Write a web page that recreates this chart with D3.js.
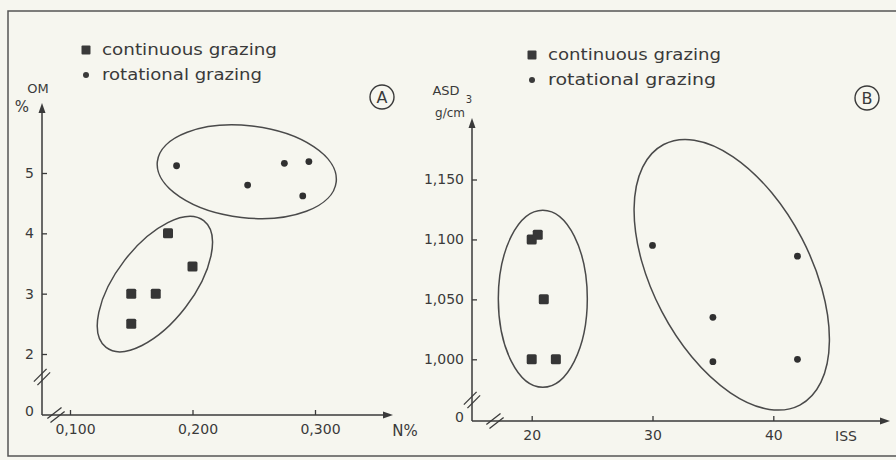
<!DOCTYPE html>
<html>
<head>
<meta charset="utf-8">
<script src="https://cdn.jsdelivr.net/npm/d3@7"></script>
<style>
  body { margin: 0; background: #f6f6ef; }
  svg text { font-family: "DejaVu Sans", sans-serif; fill: #3a3a3a; }
</style>
</head>
<body>
<script>
// figure size
const width = 896;
const height = 460;

// panel A : N% vs OM%
const contNA = [0.18, 0.20, 0.15, 0.17, 0.15];
const contOMA = [4.0, 3.45, 3.0, 3.0, 2.5];
const rotNA = [0.187, 0.275, 0.295, 0.245, 0.29];
const rotOMA = [5.12, 5.16, 5.19, 4.8, 4.62];
const nTicks = [0.1, 0.2, 0.3];
const nTickLabels = ["0,100", "0,200", "0,300"];
const omTicks = [2, 3, 4, 5];

// panel B : ISS vs ASD
const contISS = [20, 20.5, 21, 20, 22];
const contASD = [1.100, 1.104, 1.050, 1.000, 1.000];
const rotISS = [30, 42, 35, 35, 42];
const rotASD = [1.095, 1.086, 1.035, 0.998, 1.000];
const issTicks = [20, 30, 40];
const asdTicks = [1.000, 1.050, 1.100, 1.150];
const asdTickLabels = ["1,000", "1,050", "1,100", "1,150"];

const legendLabels = ["continuous grazing", "rotational grazing"];

const ink = "#3a3a3a";

const svg = d3.select("body").append("svg")
    .attr("width", width).attr("height", height);

svg.append("rect").attr("width", width).attr("height", height).attr("fill", "#f6f6ef");
// frame
svg.append("rect")
    .attr("x", 8).attr("y", 11).attr("width", 900).attr("height", 445)
    .attr("fill", "none").attr("stroke", "#555").attr("stroke-width", 1.5);

function arrow(g, x, y, dir) {
    let pts;
    if (dir === "up") pts = [[x, y], [x - 3.5, y + 10], [x + 3.5, y + 10]];
    else pts = [[x, y], [x - 10, y - 3.5], [x - 10, y + 3.5]];
    g.append("path").attr("d", "M" + pts.join("L") + "Z").attr("fill", ink);
}

function breakMark(g, x, y, ang) {
    // two short parallel slashes across an axis
    for (const off of [-2.5, 2.5]) {
        g.append("line")
            .attr("x1", -9).attr("x2", 9).attr("y1", off).attr("y2", off)
            .attr("transform", `translate(${x},${y}) rotate(${ang})`)
            .attr("stroke", ink).attr("stroke-width", 1.3);
    }
}

function drawPanel(cfg) {
    const g = svg.append("g");
    const x = d3.scaleLinear().domain(cfg.xDomain).range(cfg.xRange);
    const y = d3.scaleLinear().domain(cfg.yDomain).range(cfg.yRange);

    // axes lines
    g.append("line").attr("x1", cfg.ox).attr("x2", cfg.ox)
        .attr("y1", cfg.oy).attr("y2", cfg.yTop + 4)
        .attr("stroke", ink).attr("stroke-width", 1.5);
    g.append("line").attr("x1", cfg.ox).attr("x2", cfg.xEnd - 4)
        .attr("y1", cfg.oy).attr("y2", cfg.oy)
        .attr("stroke", ink).attr("stroke-width", 1.5);
    arrow(g, cfg.ox, cfg.yTop, "up");
    arrow(g, cfg.xEnd, cfg.oy, "right");

    const yAxis = d3.axisLeft(y).tickValues(cfg.yTicks)
        .tickFormat((d, i) => cfg.yLabels[i]).tickSize(-5).tickPadding(cfg.yPad);
    const ya = g.append("g").attr("transform", `translate(${cfg.ox},0)`).call(yAxis);
    ya.select(".domain").remove();

    const xAxis = d3.axisBottom(x).tickValues(cfg.xTicks)
        .tickFormat((d, i) => cfg.xLabels[i]).tickSize(-5).tickPadding(9);
    const xa = g.append("g").attr("transform", `translate(0,${cfg.oy})`).call(xAxis);
    xa.select(".domain").remove();

    [ya, xa].forEach(a => {
        a.selectAll(".tick line").attr("stroke", ink).attr("stroke-width", 1.3);
        a.selectAll(".tick text").attr("font-size", 14).attr("fill", ink)
            .style("font-family", "'DejaVu Sans', sans-serif");
    });
    xa.selectAll(".tick text").attr("dx", cfg.xLabelDx);

    // origin "0" and break marks
    g.append("text").attr("x", cfg.ox - 8).attr("y", cfg.oy - 3)
        .attr("text-anchor", "end").attr("dominant-baseline", "middle")
        .attr("font-size", 14).text("0");
    breakMark(g, cfg.ox, cfg.yBreak, -45);
    breakMark(g, cfg.xBreak, cfg.oy, -38);

    // axis titles
    cfg.titles.forEach(t => {
        g.append("text").attr("x", t.x).attr("y", t.y).attr("font-size", t.size || 14)
            .attr("text-anchor", t.anchor || "middle").attr("dominant-baseline", "middle")
            .text(t.text);
    });

    // group ellipses
    cfg.ellipses.forEach(e => {
        g.append("ellipse")
            .attr("transform", `translate(${x(e.cx)},${y(e.cy)}) rotate(${e.rot})`)
            .attr("rx", e.rx).attr("ry", e.ry)
            .attr("fill", "none").attr("stroke", "#4a4a4a").attr("stroke-width", 1.5);
    });

    // points
    g.selectAll(".sq").data(d3.zip(cfg.contX, cfg.contY)).enter().append("rect")
        .attr("x", d => x(d[0]) - 5).attr("y", d => y(d[1]) - 5)
        .attr("width", 10).attr("height", 10).attr("rx", 1.5)
        .attr("fill", "#363636");
    g.selectAll(".dot").data(d3.zip(cfg.rotX, cfg.rotY)).enter().append("circle")
        .attr("cx", d => x(d[0])).attr("cy", d => y(d[1])).attr("r", 3.4)
        .attr("fill", "#303030");

    // legend
    const lg = g.append("g").attr("transform", `translate(${cfg.legX},${cfg.legY})`);
    lg.append("rect").attr("x", -4.5).attr("y", -4.5).attr("width", 9).attr("height", 9)
        .attr("rx", 1).attr("fill", "#3a3a3a");
    lg.append("circle").attr("cx", 0).attr("cy", 25).attr("r", 3).attr("fill", "#3a3a3a");
    legendLabels.forEach((l, i) => {
        lg.append("text").attr("x", 16).attr("y", i * 25)
            .attr("dominant-baseline", "middle").attr("font-size", 16)
            .attr("textLength", cfg.legLen[i]).attr("lengthAdjust", "spacingAndGlyphs")
            .text(l);
    });

    // panel letter
    g.append("circle").attr("cx", cfg.letterX).attr("cy", cfg.letterY).attr("r", 12)
        .attr("fill", "none").attr("stroke", ink).attr("stroke-width", 1.4);
    g.append("text").attr("x", cfg.letterX).attr("y", cfg.letterY + 1)
        .attr("text-anchor", "middle").attr("dominant-baseline", "middle")
        .attr("font-size", 16).text(cfg.letter);
}

drawPanel({
    xDomain: [0.1, 0.3], xRange: [70, 315],
    yDomain: [2, 5], yRange: [354, 173],
    ox: 42, oy: 415, yTop: 103, xEnd: 393,
    xTicks: nTicks, xLabels: nTickLabels, xLabelDx: 5,
    yTicks: omTicks, yLabels: omTicks.map(String), yPad: 8,
    yBreak: 377, xBreak: 56,
    titles: [
        {text: "OM", x: 38, y: 89, size: 13},
        {text: "%", x: 22, y: 107, size: 15},
        {text: "N%", x: 405, y: 431, size: 15}
    ],
    ellipses: [
        {cx: 0.1693, cy: 3.159, rx: 80, ry: 38.5, rot: -52.4},
        {cx: 0.2443, cy: 5.02, rx: 90, ry: 46, rot: 6.5}
    ],
    contX: contNA, contY: contOMA, rotX: rotNA, rotY: rotOMA,
    legX: 86, legY: 50, legLen: [175, 160],
    letter: "A", letterX: 382, letterY: 97
});

drawPanel({
    xDomain: [20, 40], xRange: [531.7, 773.3],
    yDomain: [1.0, 1.15], yRange: [359.3, 179.5],
    ox: 472, oy: 421, yTop: 118, xEnd: 890,
    xTicks: issTicks, xLabels: issTicks.map(String), xLabelDx: 0,
    yTicks: asdTicks, yLabels: asdTickLabels, yPad: 8,
    yBreak: 400, xBreak: 495,
    titles: [
        {text: "ASD", x: 446, y: 91, size: 13},
        {text: "g/cm", x: 450, y: 113, size: 12},
        {text: "3", x: 469, y: 100, size: 10},
        {text: "ISS", x: 846, y: 437, size: 14}
    ],
    ellipses: [
        {cx: 20.92, cy: 1.0505, rx: 44.5, ry: 88.5, rot: 0},
        {cx: 36.56, cy: 1.0705, rx: 147, ry: 79, rot: 62.4}
    ],
    contX: contISS, contY: contASD, rotX: rotISS, rotY: rotASD,
    legX: 532, legY: 55, legLen: [173, 168],
    letter: "B", letterX: 867, letterY: 98
});
</script>
</body>
</html>
